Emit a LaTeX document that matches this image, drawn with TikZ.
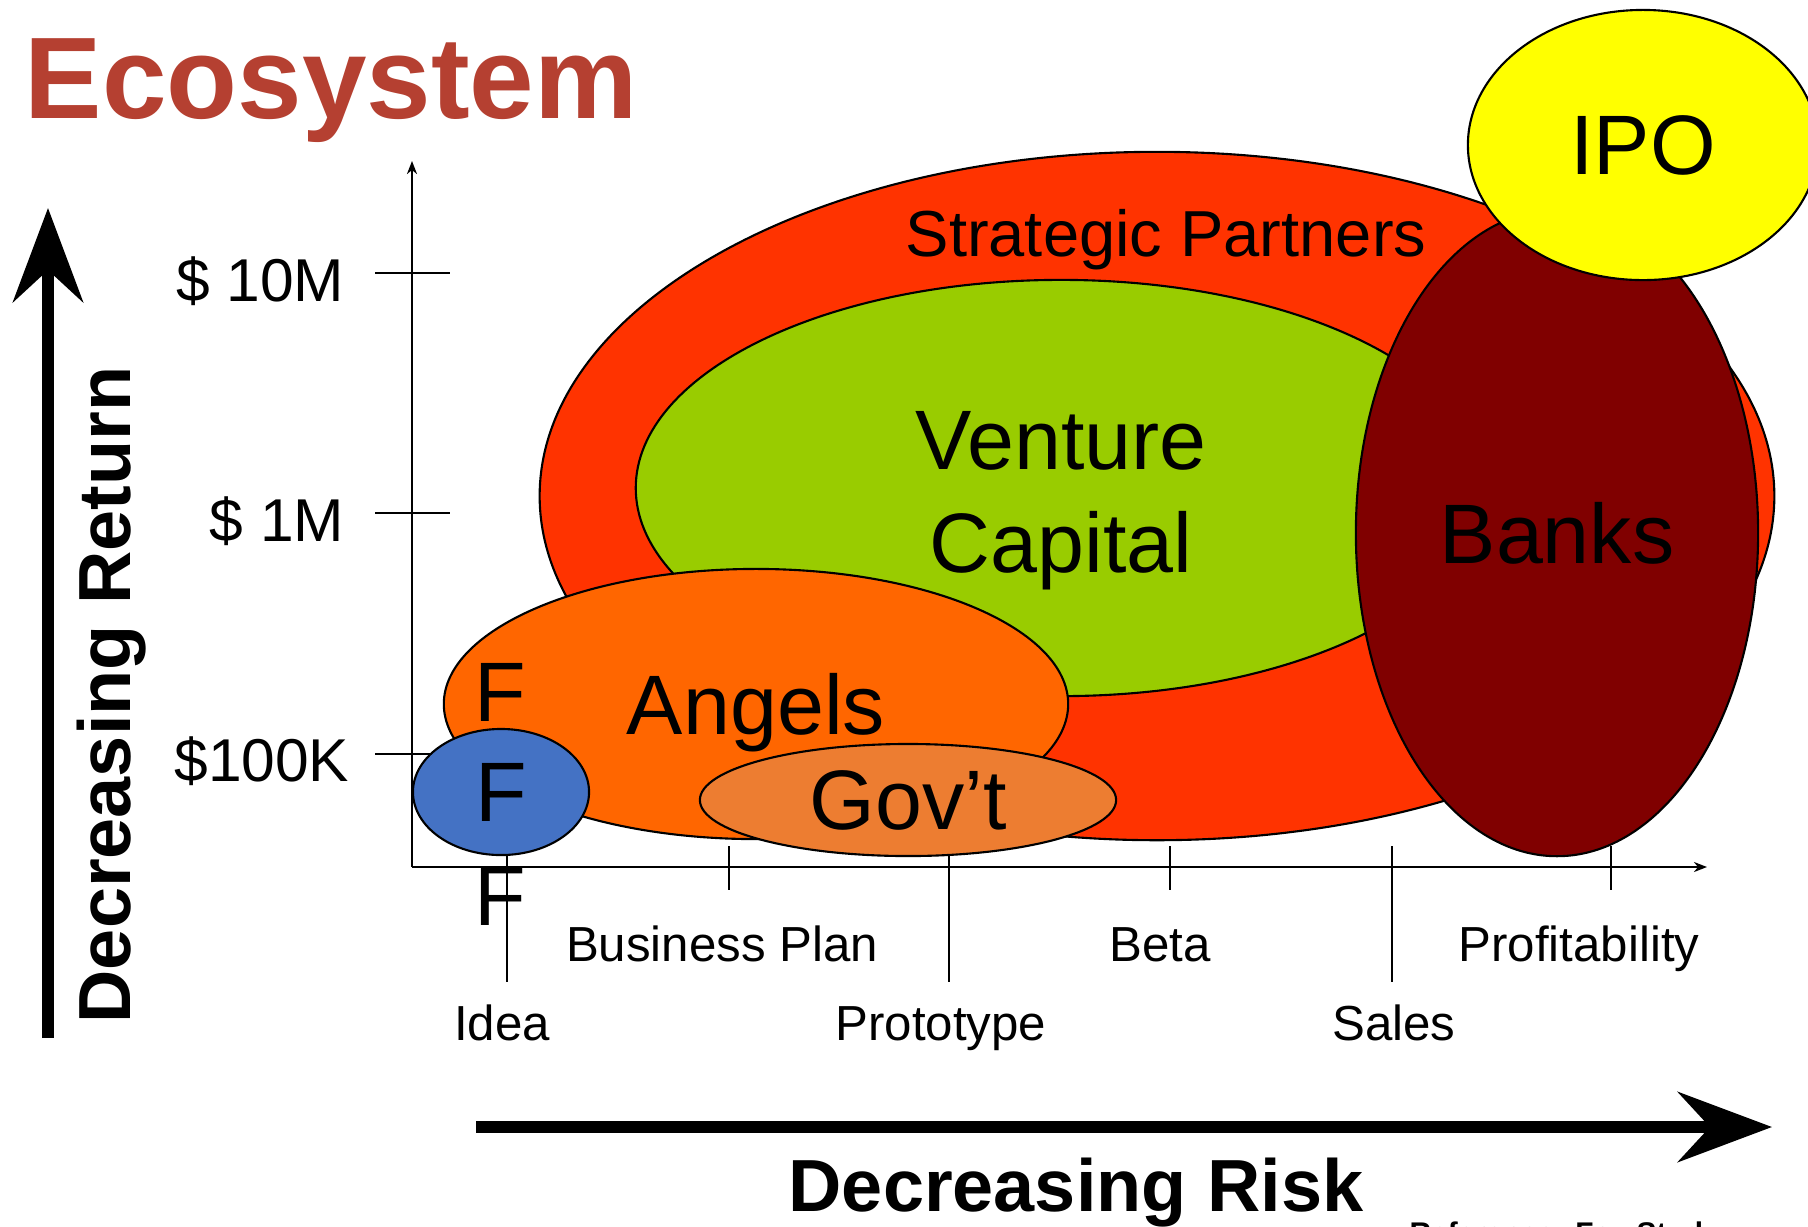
\documentclass[tikz,border=0pt]{standalone}
\usepackage{fontspec}
\setmainfont{Liberation Sans}
\usetikzlibrary{shapes.geometric,arrows.meta}

\definecolor{titlered}{RGB}{181,64,49}
\definecolor{partnerred}{RGB}{255,51,0}
\definecolor{vcgreen}{RGB}{153,204,0}
\definecolor{bankred}{RGB}{128,0,0}
\definecolor{ipoyellow}{RGB}{255,255,0}
\definecolor{angelorange}{RGB}{255,102,0}
\definecolor{govorange}{RGB}{237,125,49}
\definecolor{ffblue}{RGB}{68,114,196}

\begin{document}
\begin{tikzpicture}[x=0.01cm, y=-0.01cm,
    blob/.style={ellipse, draw=black, line width=0.6pt, inner sep=0pt, text depth=0pt,
      font=\fontsize{24}{28}\selectfont},
    bigtext/.style={inner sep=0pt, font=\fontsize{24}{28}\selectfont},
    stage/.style={inner sep=0pt, anchor=base, font=\fontsize{14}{17}\selectfont},
    money/.style={inner sep=0pt, anchor=base east, font=\fontsize{17.2}{21}\selectfont},
    trend/.style={inner sep=0pt, anchor=base, font=\fontsize{21}{25}\selectfont\bfseries},
    axisline/.style={line width=0.6pt},
    fatarrow/.style={line width=3.3pt, -{Stealth[length=0.94cm, width=0.7cm, inset=0.32cm]}}]
  \useasboundingbox (0,0) rectangle (1808,1226);

  % Title
  \node[anchor=base west, inner sep=0pt, text=titlered,
    font=\fontsize{33}{40}\selectfont\bfseries] (title) at (24,118) {Ecosystem};

  % Axes
  \coordinate (origin) at (412,867);
  \coordinate (ytop) at (412,161);
  \coordinate (xend) at (1707,867);
  \draw[axisline, -{Stealth[length=0.13cm, width=0.1cm, inset=0.04cm]}] (origin) -- (ytop);
  \draw[axisline, -{Stealth[length=0.13cm, width=0.1cm, inset=0.04cm]}] (origin) -- (xend);

  % Return ticks
  \foreach \y in {273,513,754} {
    \draw[axisline] (375,\y) -- (450,\y);
  }
  % Stage ticks (short and long)
  \foreach \x in {729,1170,1611} {
    \draw[axisline] (\x,846) -- (\x,890);
  }
  \foreach \x in {507,949,1392} {
    \draw[axisline] (\x,846) -- (\x,982);
  }

  % Return labels
  \node[money] (tenm) at (345,301) {\$ 10M};
  \node[money] (onem) at (345,541) {\$ 1M};
  \node[money] (hundredk) at (350,781) {\$100K};

  % Stage labels
  \node[stage] (idea) at (502,1040) {Idea};
  \node[stage] (plan) at (722,961) {Business Plan};
  \node[stage] (proto) at (941,1040) {Prototype};
  \node[stage] (beta) at (1160,961) {Beta};
  \node[stage] (sales) at (1394,1040) {Sales};
  \node[stage] (profit) at (1579,961) {Profitability};

  % Funding sources
  \node[blob, fill=partnerred, minimum width=12.34cm, minimum height=6.88cm] (partners) at (1157,496) {};
  \node[blob, fill=vcgreen, minimum width=8.5cm, minimum height=4.16cm] (vc) at (1061,488) {};
  \node[blob, fill=bankred, minimum width=4.02cm, minimum height=6.46cm] (banks) at (1557,533) {Banks};
  \node[blob, fill=ipoyellow, minimum width=3.5cm, minimum height=2.7cm] (ipo) at (1643,145) {IPO};
  \node[blob, fill=angelorange, minimum width=6.24cm, minimum height=2.7cm] (angels) at (756,704) {Angels};
  \node[blob, fill=govorange, minimum width=4.16cm, minimum height=1.12cm] (govt) at (908,800) {Gov’t};
  \node[blob, fill=ffblue, minimum width=1.76cm, minimum height=1.26cm] (family) at (501,792) {F};

  \node[inner sep=0pt, anchor=base, font=\fontsize{18.5}{22}\selectfont] (partnerstext) at (1166,256) {Strategic Partners};
  \node[bigtext, anchor=base] (vctop) at (1061,469) {Venture};
  \node[bigtext, anchor=base] (vcbottom) at (1061,572) {Capital};
  \node[bigtext, anchor=base] (friends) at (500,721) {F};
  \node[bigtext, anchor=base] (fools) at (500,925) {F};

  % Trend arrows
  \coordinate (retlo) at (48,1038);
  \coordinate (rethi) at (48,208);
  \coordinate (risklo) at (476,1127);
  \coordinate (riskhi) at (1772,1127);
  \draw[fatarrow] (retlo) -- (rethi);
  \draw[fatarrow] (risklo) -- (riskhi);
  \node[trend, rotate=90] (retlabel) at (130,695) {Decreasing Return};
  \node[trend] (risklabel) at (1076,1211) {Decreasing Risk};

  % Source note (cut off at the bottom)
  \node[anchor=north west, inner sep=0pt, font=\fontsize{8.5}{10}\selectfont\bfseries] (refnote) at (1409,1221) {Reference: Fox Study};
\end{tikzpicture}
\end{document}
